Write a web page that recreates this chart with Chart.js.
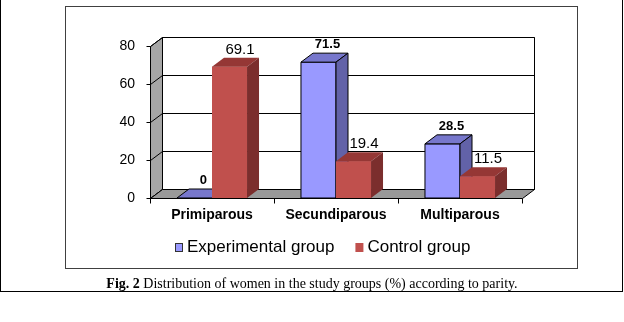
<!DOCTYPE html>
<html>
<head>
<meta charset="utf-8">
<script src="https://cdn.jsdelivr.net/npm/chart.js@4.4.0/dist/chart.umd.min.js"></script>
<style>
  html, body { margin: 0; padding: 0; background: #fff; }
  body { width: 624px; height: 322px; position: relative; overflow: hidden; }
  #frame { position: absolute; left: 0; top: -2px; width: 623px; height: 294px; border: 1px solid #000; box-sizing: border-box; }
  #chartFrame { position: absolute; left: 65px; top: 6px; width: 513px; height: 263px; border: 1px solid #404040; box-sizing: border-box; }
  #chartBox { position: absolute; left: 0; top: 0; }
  #caption { position: absolute; left: 0; width: 624px; top: 276px; line-height: 16px; text-align: center;
    font-size: 14px; font-family: "Liberation Serif", "Times New Roman", serif; color: #000; }
</style>
</head>
<body>
<div id="frame"></div>
<div id="chartFrame"></div>
<canvas id="chartBox" width="624" height="322"></canvas>
<div id="caption"><b>Fig. 2</b> Distribution of women in the study groups (%) according to parity.</div>
<script>
const categories = ['Primiparous', 'Secundiparous', 'Multiparous'];
const seriesNames = ['Experimental group', 'Control group'];
const experimental = [0, 71.5, 28.5];
const control = [69.1, 19.4, 11.5];
const yTicks = [0, 20, 40, 60, 80];

const FONT = '"Liberation Sans", Arial, sans-serif';
// depth of the fake 3D box
const DX = 12, DY = 9;

const looks = [
  { front: '#9999FF', top: '#7777CC', side: '#6262A8', edge: '#000', label: 'bold 13px ' + FONT, lx: 9, ly: 5 },
  { front: '#C0504D', top: '#953735', side: '#7B2E2D', edge: null, label: '15px ' + FONT, lx: 10.5, ly: 4 }
];

function poly(ctx, pts, fill, stroke) {
  ctx.beginPath();
  ctx.moveTo(pts[0][0], pts[0][1]);
  for (let i = 1; i < pts.length; i++) ctx.lineTo(pts[i][0], pts[i][1]);
  ctx.closePath();
  if (fill) { ctx.fillStyle = fill; ctx.fill(); }
  if (stroke) { ctx.strokeStyle = stroke; ctx.lineWidth = 1; ctx.stroke(); }
}

function seg(ctx, x1, y1, x2, y2) {
  ctx.beginPath();
  ctx.moveTo(x1, y1);
  ctx.lineTo(x2, y2);
  ctx.stroke();
}

const box3d = {
  id: 'box3d',
  beforeDatasetsDraw(chart) {
    const { ctx, chartArea: a, scales: { x, y } } = chart;
    const L = Math.round(a.left) + 0.5, R = Math.round(a.right) + 0.5;
    const T = Math.round(a.top) + 0.5, B = Math.round(a.bottom) + 0.5;
    ctx.save();
    // side wall
    poly(ctx, [[L, T], [L + DX, T - DY], [L + DX, B - DY], [L, B]], '#A6A6A6', '#000');
    // back wall
    poly(ctx, [[L + DX, T - DY], [R + DX, T - DY], [R + DX, B - DY], [L + DX, B - DY]], '#fff', '#000');
    ctx.strokeStyle = '#000';
    ctx.lineWidth = 1;
    yTicks.forEach(v => {
      const py = Math.round(y.getPixelForValue(v)) + 0.5;
      seg(ctx, L + DX, py - DY, R + DX, py - DY);
      seg(ctx, L, py, L + DX, py - DY);
      seg(ctx, L - 4, py, L, py);
    });
    // floor
    poly(ctx, [[L, B], [R, B], [R + DX, B - DY], [L + DX, B - DY]], '#999999', '#000');
    seg(ctx, L, T, L, B);
    // category tick marks on the boundaries
    for (let i = 0; i <= categories.length; i++) {
      const px = Math.round(x.getPixelForValue(i - 0.5)) + 0.5;
      seg(ctx, px, B, px, B + 5);
    }
    ctx.restore();
  },
  afterDatasetsDraw(chart) {
    const { ctx } = chart;
    ctx.save();
    for (let i = 0; i < categories.length; i++) {
      chart.data.datasets.forEach((ds, d) => {
        const el = chart.getDatasetMeta(d).data[i];
        const lk = looks[d];
        const l = el.x - el.width / 2, r = el.x + el.width / 2;
        const t = el.y, b = el.base;
        if (b - t > 0.5) poly(ctx, [[l, t], [r, t], [r, b], [l, b]], lk.front, lk.edge);
        poly(ctx, [[l, t], [r, t], [r + DX, t - DY], [l + DX, t - DY]], lk.top, lk.edge);
        if (b - t > 0.5) poly(ctx, [[r, t], [r + DX, t - DY], [r + DX, b - DY], [r, b]], lk.side, lk.edge);
      });
    }
    // value labels
    ctx.fillStyle = '#000';
    ctx.textAlign = 'center';
    ctx.textBaseline = 'alphabetic';
    chart.data.datasets.forEach((ds, d) => {
      const lk = looks[d];
      ctx.font = lk.label;
      chart.getDatasetMeta(d).data.forEach((el, i) => {
        ctx.fillText(String(ds.data[i]), el.x + lk.lx, el.y - DY - lk.ly);
      });
    });
    ctx.restore();
  },
  afterDraw(chart) {
    // legend row under the axis
    const { ctx } = chart;
    ctx.save();
    ctx.font = '17px ' + FONT;
    ctx.textBaseline = 'middle';
    ctx.textAlign = 'left';
    const widths = seriesNames.map(s => ctx.measureText(s).width);
    const total = widths.reduce((s, w) => s + w + 12, 0) + 21 * (seriesNames.length - 1);
    let px = Math.round(323 - total / 2);
    const cy = 247.5;
    seriesNames.forEach((s, d) => {
      const lk = looks[d];
      ctx.fillStyle = lk.front;
      ctx.fillRect(px, cy - 4.5, 8, 9);
      if (lk.edge) { ctx.strokeStyle = '#333'; ctx.lineWidth = 1; ctx.strokeRect(px + 0.5, cy - 4, 7, 8); }
      ctx.fillStyle = '#000';
      ctx.fillText(s, px + 12, cy);
      px += 12 + widths[d] + 21;
    });
    ctx.restore();
  }
};

new Chart(document.getElementById('chartBox'), {
  type: 'bar',
  data: {
    labels: categories,
    datasets: [
      { label: seriesNames[0], data: experimental, backgroundColor: looks[0].front, borderWidth: 0 },
      { label: seriesNames[1], data: control, backgroundColor: looks[1].front, borderWidth: 0 }
    ]
  },
  options: {
    responsive: false,
    animation: false,
    layout: { padding: { left: 90, right: 102, top: 46, bottom: 84 } },
    datasets: { bar: { categoryPercentage: 0.565, barPercentage: 1 } },
    plugins: { legend: { display: false }, tooltip: { enabled: false } },
    scales: {
      x: {
        grid: { display: false, drawTicks: false },
        border: { display: false },
        ticks: { color: '#000', padding: 9, font: { family: FONT, size: 14, weight: 'bold' } },
        afterFit(s) { s.height = 40; }
      },
      y: {
        min: 0,
        max: 80,
        grid: { display: false, drawTicks: false },
        border: { display: false },
        ticks: { stepSize: 20, color: '#000', padding: 15, font: { family: FONT, size: 14 } },
        afterFit(s) { s.width = 60; }
      }
    }
  },
  plugins: [box3d]
});
</script>
</body>
</html>
